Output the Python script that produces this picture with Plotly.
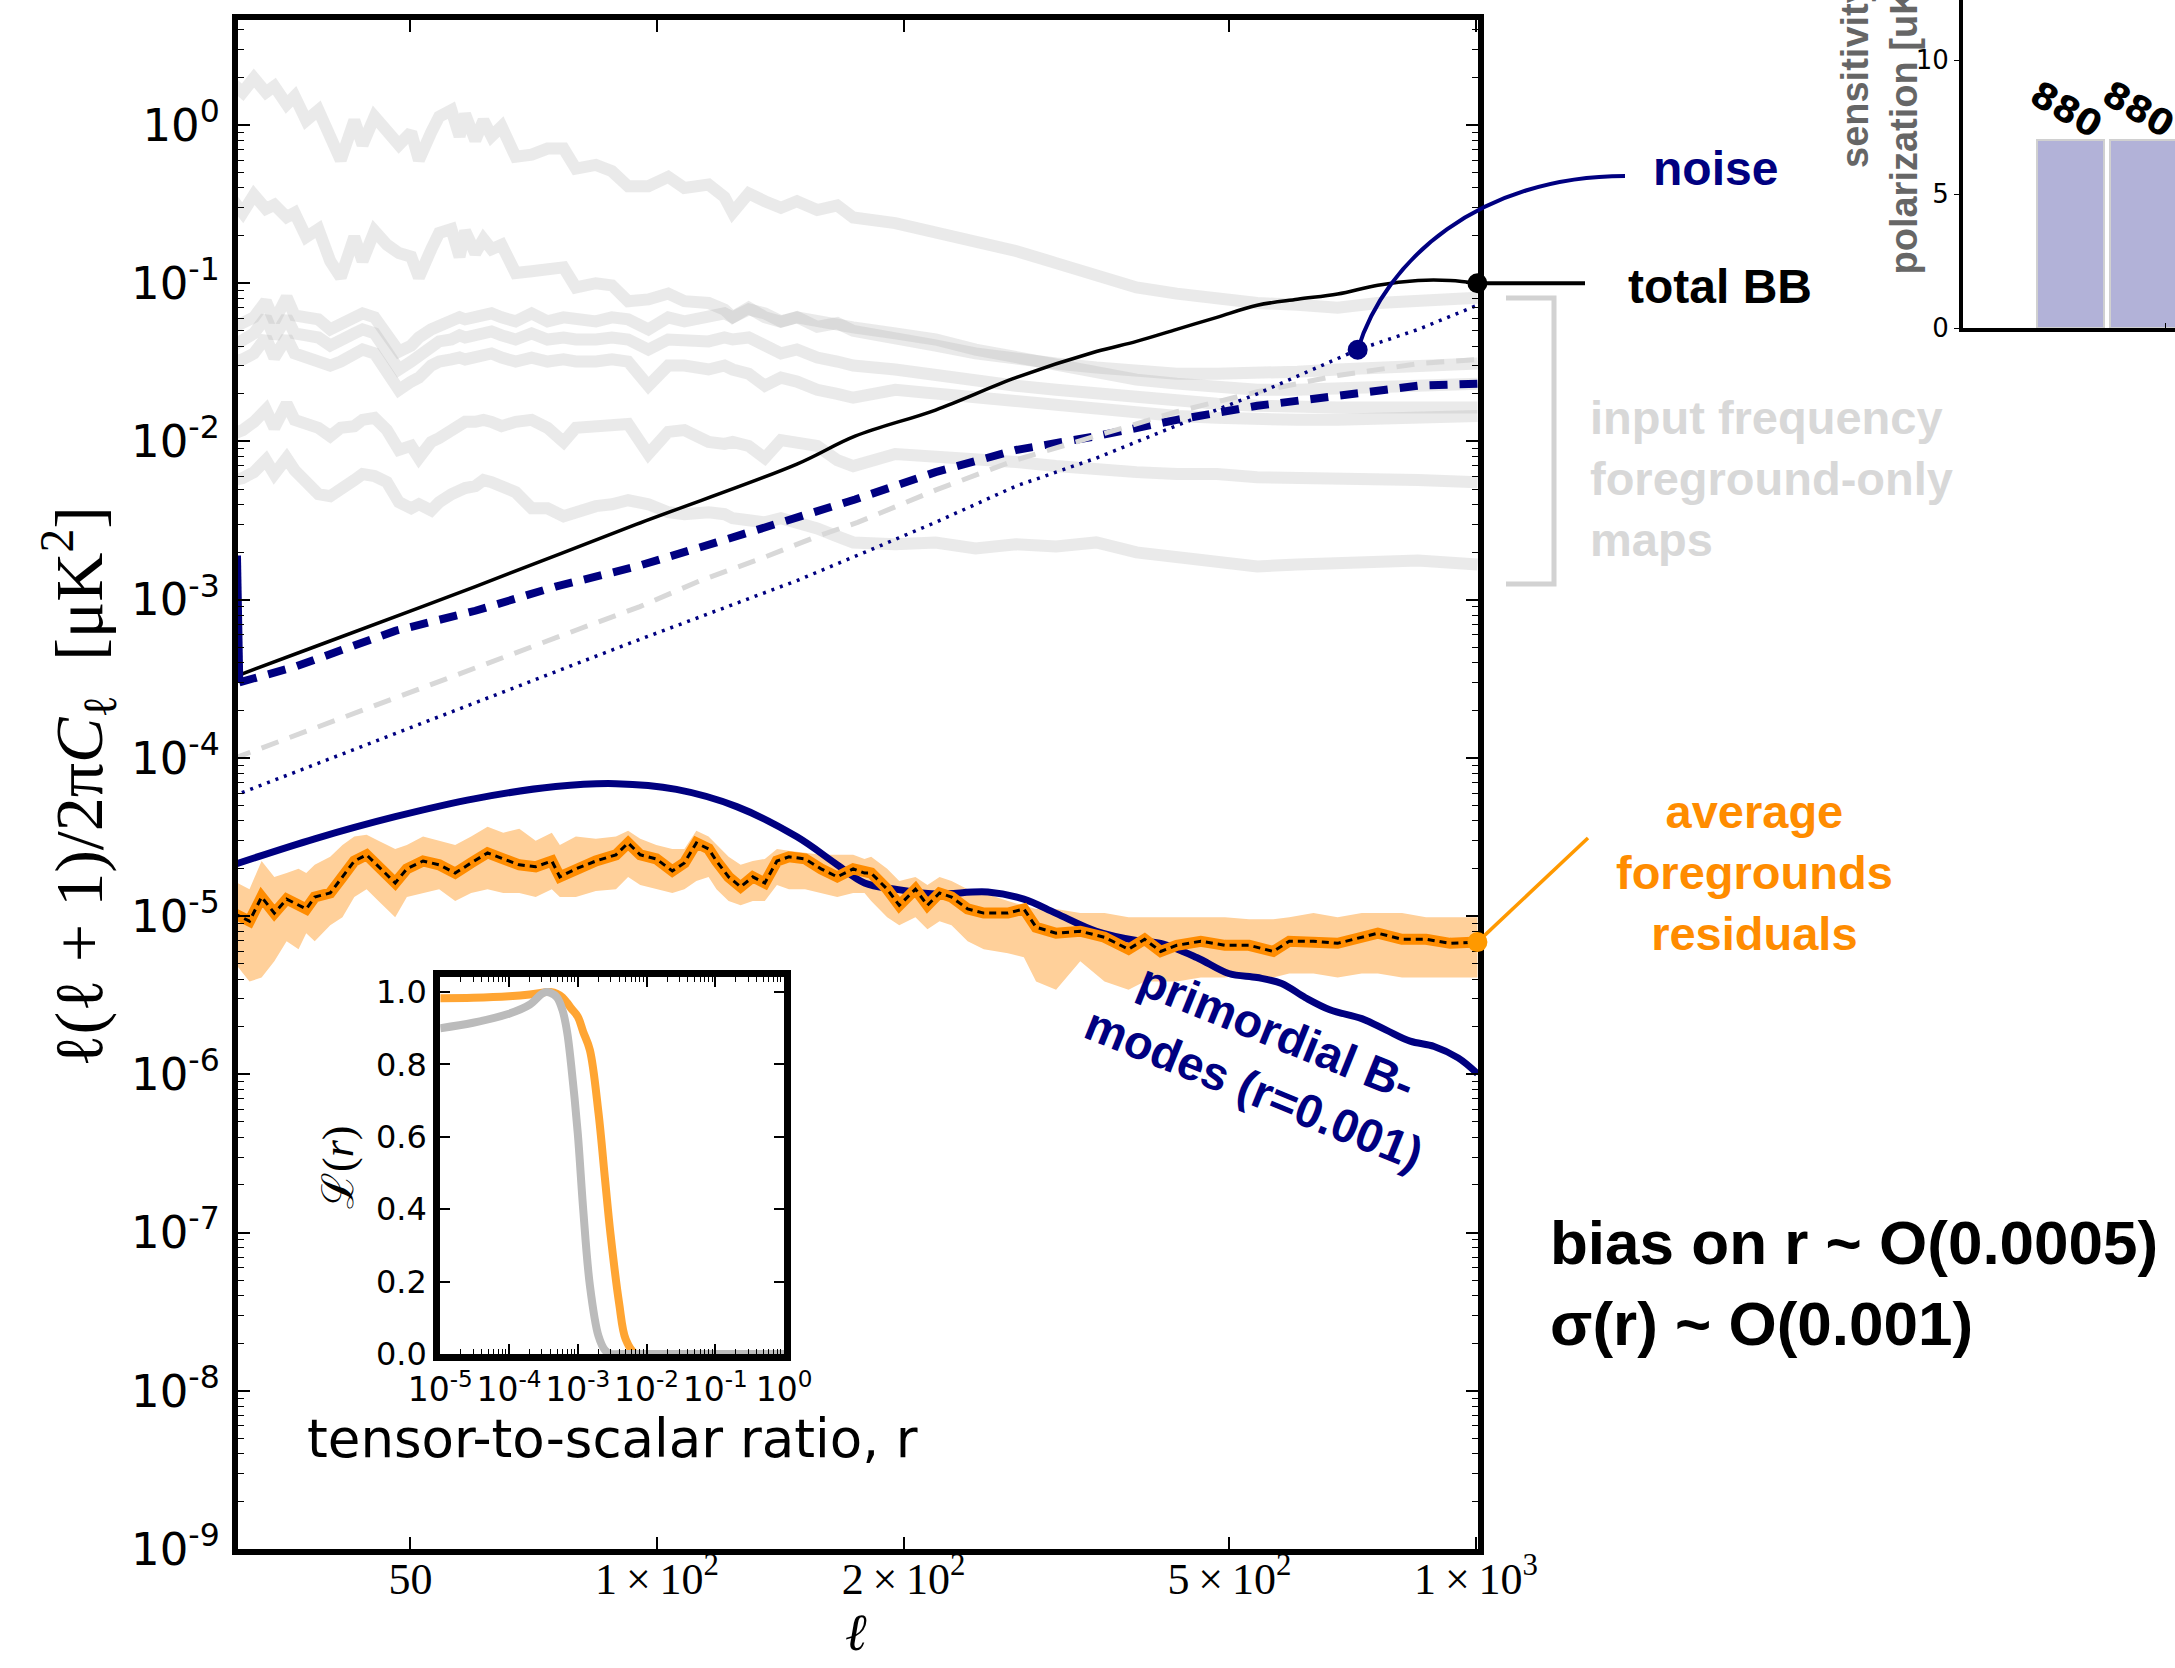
import math
import plotly.graph_objects as go

W, H = 2175, 1668

# ---------------------------------------------------------------------------
# Foreground-only input frequency maps, BB spectra D_ell [uK^2]
# ---------------------------------------------------------------------------
ELL_FG = [30.4, 31.2, 32.2, 33.3, 34.1, 35.3, 36.1, 37.3, 38.6, 39.9, 41.1, 42.7,
          43.7, 45.2, 46.8, 48.4, 50.1, 51.2, 53.0, 54.2, 56.1, 57.4, 58.3, 60.0,
          61.4, 62.8, 64.6, 67.2, 70.3, 73.5, 76.9, 79.6, 84.2, 88.1, 92.2, 97.6,
          103.2, 108.0, 115.6, 120.9, 123.7, 129.4, 135.4, 141.7, 148.2, 156.9,
          166.0, 173.6, 195.4, 218.8, 244.9, 274.3, 307.1, 343.9, 385.0, 431.1,
          482.7, 540.6, 605.3, 677.7, 758.8, 849.6, 1004.0]

FG_1 = [1.81, 1.61, 1.98, 1.61, 1.76, 1.35, 1.52, 1.07, 1.24, 0.80, 0.60, 1.07,
        0.75, 1.13, 0.90, 0.75, 0.90, 0.60, 0.90, 1.13, 1.24, 0.85, 1.17, 0.80,
        1.07, 0.85, 0.98, 0.63, 0.65, 0.71, 0.71, 0.53, 0.56, 0.51, 0.41, 0.41,
        0.47, 0.40, 0.42, 0.35, 0.28, 0.37, 0.33, 0.30, 0.33, 0.29, 0.31, 0.26,
        0.24, 0.21, 0.19, 0.16, 0.134, 0.112, 0.094, 0.086, 0.079, 0.075, 0.073,
        0.070, 0.075, 0.077, 0.081]
FG_2 = [0.332, 0.279, 0.362, 0.295, 0.313, 0.262, 0.279, 0.196, 0.220, 0.138,
        0.109, 0.196, 0.138, 0.214, 0.175, 0.155, 0.147, 0.109, 0.164, 0.208,
        0.220, 0.147, 0.214, 0.155, 0.190, 0.164, 0.175, 0.116, 0.119, 0.123,
        0.126, 0.094, 0.100, 0.097, 0.077, 0.079, 0.086, 0.077, 0.075, 0.068,
        0.061, 0.070, 0.061, 0.057, 0.061, 0.053, 0.056, 0.050, 0.0454, 0.0404,
        0.0360, 0.0330, 0.0311, 0.0293, 0.0276, 0.0268, 0.0268, 0.0268, 0.0276,
        0.0285, 0.0293, 0.0302, 0.0311]
FG_3 = [0.0526, 0.0557, 0.0609, 0.0769, 0.0574, 0.0815, 0.0627, 0.0609, 0.0591,
        0.0511, 0.0557, 0.0627, 0.0645, 0.0609, 0.0482, 0.0370, 0.0404, 0.0454,
        0.0511, 0.0541, 0.0574, 0.0609, 0.0591, 0.0609, 0.0609, 0.0645, 0.0609,
        0.0574, 0.0645, 0.0574, 0.0609, 0.0591, 0.0574, 0.0609, 0.0591, 0.0511,
        0.0609, 0.0574, 0.0609, 0.0645, 0.0609, 0.0684, 0.0645, 0.0574, 0.0609,
        0.0574, 0.0541, 0.0526, 0.0482, 0.0441, 0.0381, 0.0339, 0.0302, 0.0268,
        0.0246, 0.0232, 0.0218, 0.0212, 0.0212, 0.0218, 0.0225, 0.0225, 0.0232]
FG_4 = [0.0404, 0.0429, 0.0482, 0.0609, 0.0454, 0.0609, 0.0482, 0.0468, 0.0454,
        0.0404, 0.0429, 0.0482, 0.0511, 0.0482, 0.0370, 0.0285, 0.0320, 0.0349,
        0.0404, 0.0429, 0.0441, 0.0468, 0.0454, 0.0468, 0.0468, 0.0496, 0.0468,
        0.0441, 0.0482, 0.0441, 0.0454, 0.0441, 0.0441, 0.0454, 0.0441, 0.0381,
        0.0441, 0.0441, 0.0429, 0.0454, 0.0441, 0.0454, 0.0404, 0.0360, 0.0381,
        0.0339, 0.0320, 0.0302, 0.0285, 0.0261, 0.0239, 0.0225, 0.0212, 0.0200,
        0.0189, 0.0178, 0.0173, 0.0168, 0.0164, 0.0164, 0.0164, 0.0164, 0.0164]
FG_5 = [0.0320, 0.0330, 0.0360, 0.0454, 0.0339, 0.0454, 0.0360, 0.0339, 0.0320,
        0.0302, 0.0320, 0.0360, 0.0381, 0.0360, 0.0285, 0.0212, 0.0239, 0.0253,
        0.0302, 0.0320, 0.0330, 0.0339, 0.0330, 0.0339, 0.0349, 0.0360, 0.0339,
        0.0320, 0.0339, 0.0320, 0.0330, 0.0320, 0.0320, 0.0330, 0.0320, 0.0225,
        0.0302, 0.0302, 0.0285, 0.0302, 0.0285, 0.0268, 0.0225, 0.0253, 0.0239,
        0.0212, 0.0200, 0.0189, 0.0212, 0.0200, 0.0189, 0.0178, 0.0168, 0.0159,
        0.0150, 0.0145, 0.0141, 0.0137, 0.0137, 0.0137, 0.0141, 0.0145, 0.0145]
FG_6 = [0.0112, 0.0118, 0.0133, 0.0159, 0.0122, 0.0173, 0.0137, 0.0129, 0.0122,
        0.0108, 0.0122, 0.0125, 0.0137, 0.0141, 0.0118, 0.00884, 0.00937, 0.00786,
        0.00993, 0.0105, 0.0115, 0.0125, 0.0133, 0.0133, 0.0137, 0.0133, 0.0125,
        0.0133, 0.0137, 0.0122, 0.00993, 0.0122, 0.0125, 0.0125, 0.0129, 0.00833,
        0.0115, 0.0118, 0.00993, 0.00965, 0.00993, 0.00937, 0.00786, 0.0102,
        0.00993, 0.00937, 0.00763, 0.00699, 0.00833, 0.00809, 0.00763, 0.00741,
        0.00699, 0.00659, 0.00640, 0.00622, 0.00622, 0.00594, 0.00587, 0.00604,
        0.00587, 0.00570, 0.00553]
FG_7 = [0.00570, 0.00587, 0.00640, 0.00763, 0.00622, 0.00786, 0.00659, 0.00570,
        0.00464, 0.00451, 0.00492, 0.00570, 0.00622, 0.00604, 0.00553, 0.00413,
        0.00378, 0.00401, 0.00367, 0.00413, 0.00464, 0.00492, 0.00507, 0.00522,
        0.00570, 0.00553, 0.00522, 0.00478, 0.00378, 0.00378, 0.00337, 0.00357,
        0.00390, 0.00401, 0.00425, 0.00401, 0.00357, 0.00347, 0.00357, 0.00347,
        0.00327, 0.00318, 0.00308, 0.00327, 0.00308, 0.00282, 0.00251, 0.00230,
        0.00224, 0.00230, 0.00211, 0.00224, 0.00217, 0.00230, 0.00199, 0.00188,
        0.00177, 0.00162, 0.00167, 0.00172, 0.00172, 0.00177, 0.00167]
FG_MAPS = [FG_1, FG_2, FG_3, FG_4, FG_5, FG_6, FG_7]

# total BB (lensing + primordial + noise)
ELL_TOTAL = [30.4, 38.2, 60.0, 94.3, 148.2, 174.5, 218.8, 274.3, 343.9, 385.0,
             431.1, 482.7, 540.6, 605.3, 677.7, 758.8, 849.6, 930.0, 1004.0]
TOTAL_BB = [3.24e-4, 5.04e-4, 1.21e-3, 2.99e-3, 7.19e-3, 1.08e-2, 1.58e-2, 2.53e-2,
            3.70e-2, 4.29e-2, 5.11e-2, 6.09e-2, 7.26e-2, 7.92e-2, 8.55e-2, 9.72e-2,
            1.04e-1, 1.04e-1, 1.00e-1]

# post component-separation noise
ELL_NOISE = [30.7, 30.9, 36.1, 47.9, 60.0, 75.2, 94.3, 118.2, 148.2, 174.5, 218.8,
             274.3, 343.9, 431.1, 540.6, 677.7, 849.6, 1004.0]
NOISE_BB = [1.9e-3, 3.0e-4, 3.76e-4, 6.35e-4, 8.51e-4, 1.21e-3, 1.62e-3, 2.30e-3,
            3.27e-3, 4.30e-3, 6.40e-3, 8.83e-3, 1.08e-2, 1.37e-2, 1.68e-2, 1.95e-2,
            2.25e-2, 2.32e-2]

# lensing BB
ELL_LENS = [30.4, 68.7, 80.5, 95.3, 113.0, 134.0, 156.8, 175.8, 218.8, 274.3, 343.9,
            431.1, 540.6, 677.7, 849.6, 1004.0]
LENS_BB = [9.9e-5, 4.89e-4, 6.55e-4, 9.04e-4, 1.32e-3, 1.82e-3, 2.51e-3, 3.08e-3,
           4.92e-3, 7.64e-3, 1.08e-2, 1.54e-2, 2.06e-2, 2.61e-2, 3.10e-2, 3.30e-2]

# instrumental white noise
ELL_WHITE = [30.4, 94.3, 118.2, 148.2, 179.2, 218.8, 274.3, 343.9, 431.1, 540.6,
             717.0, 849.6, 1004.0]
WHITE_BB = [5.75e-5, 5.50e-4, 8.51e-4, 1.32e-3, 1.99e-3, 3.08e-3, 5.22e-3, 7.85e-3,
            1.26e-2, 2.00e-2, 3.80e-2, 5.10e-2, 7.26e-2]
NOISE_LABEL_INDEX = 10

# primordial tensor BB for r = 0.001
ELL_PRIM = [30.4, 38.2, 47.9, 60.0, 75.2, 89.1, 105.6, 125.1, 148.2, 166.0, 179.2,
            195.4, 218.8, 253.5, 280.5, 307.1, 343.9, 385.0, 412.1, 456.0, 499.0,
            540.6, 579.0, 619.0, 663.0, 725.3, 776.0, 831.0, 889.0, 951.0, 1004.0]
PRIM_BB = [2.11e-5, 3.08e-5, 4.25e-5, 5.53e-5, 6.59e-5, 6.87e-5, 6.32e-5, 4.92e-5,
           3.17e-5, 2.11e-5, 1.62e-5, 1.48e-5, 1.38e-5, 1.42e-5, 1.28e-5, 1.04e-5,
           8.02e-6, 7.01e-6, 6.73e-6, 5.48e-6, 4.34e-6, 4.09e-6, 3.75e-6, 3.05e-6,
           2.56e-6, 2.25e-6, 1.91e-6, 1.62e-6, 1.50e-6, 1.27e-6, 1.01e-6]

# average foreground residuals with their scatter
ELL_RES = [30.4, 31.8, 32.9, 34.1, 35.3, 36.5, 37.3, 38.2, 39.9, 41.3, 42.7, 44.2,
           45.7, 47.9, 49.5, 51.8, 54.2, 56.7, 59.3, 62.1, 64.9, 67.9, 71.1, 74.4,
           76.1, 79.6, 84.2, 89.1, 92.2, 95.4, 99.8, 104.4, 108.0, 111.7, 115.6,
           118.2, 122.3, 126.5, 130.9, 135.4, 140.1, 144.9, 151.6, 158.6, 166.0,
           173.6, 179.2, 182.6, 191.0, 197.6, 206.8, 213.9, 221.3, 228.9, 239.5,
           250.6, 268.2, 280.5, 290.3, 307.1, 328.7, 351.9, 376.5, 393.9, 412.1,
           431.1, 461.3, 493.7, 528.4, 565.5, 591.6, 633.2, 677.7, 725.3, 758.8,
           812.2, 869.0, 930.1, 1004.0]
RES_MEAN = [1.045e-5, 9.29e-6, 1.32e-5, 1.045e-5, 1.28e-5, 1.17e-5, 1.11e-5, 1.32e-5,
            1.40e-5, 1.77e-5, 2.23e-5, 2.44e-5, 2.05e-5, 1.62e-5, 1.99e-5, 2.23e-5,
            2.11e-5, 1.87e-5, 2.17e-5, 2.51e-5, 2.30e-5, 2.11e-5, 2.05e-5, 2.23e-5,
            1.77e-5, 1.99e-5, 2.23e-5, 2.44e-5, 2.90e-5, 2.44e-5, 2.30e-5, 1.93e-5,
            2.17e-5, 2.90e-5, 2.66e-5, 2.23e-5, 1.77e-5, 1.53e-5, 1.77e-5, 1.62e-5,
            2.23e-5, 2.37e-5, 2.30e-5, 1.99e-5, 1.77e-5, 1.99e-5, 1.87e-5,
            1.87e-5, 1.48e-5, 1.17e-5, 1.48e-5, 1.17e-5, 1.40e-5, 1.32e-5, 1.11e-5,
            1.045e-5, 1.045e-5, 1.11e-5, 8.51e-6, 7.80e-6, 8.02e-6, 7.35e-6, 6.17e-6,
            7.14e-6, 5.98e-6, 6.54e-6, 6.94e-6, 6.54e-6, 6.54e-6, 5.98e-6, 6.94e-6,
            6.94e-6, 6.73e-6, 7.35e-6, 7.80e-6, 7.14e-6, 7.14e-6, 6.73e-6, 6.85e-6]
RES_UPPER = [1.67e-5, 1.48e-5, 2.23e-5, 1.77e-5, 1.87e-5, 1.99e-5, 1.87e-5, 2.11e-5,
             2.37e-5, 2.82e-5, 3.18e-5, 3.27e-5, 2.99e-5, 2.66e-5, 2.82e-5, 3.18e-5,
             2.99e-5, 2.82e-5, 3.18e-5, 3.67e-5, 3.37e-5, 3.57e-5, 2.99e-5, 3.37e-5,
             2.82e-5, 3.18e-5, 3.08e-5, 3.18e-5, 3.46e-5, 3.08e-5, 2.82e-5, 2.66e-5,
             2.66e-5, 3.46e-5, 3.18e-5, 2.82e-5, 2.37e-5, 2.11e-5, 2.23e-5, 2.30e-5,
             2.66e-5, 2.59e-5, 2.51e-5, 2.44e-5, 2.44e-5, 2.44e-5, 2.30e-5,
             2.37e-5, 1.99e-5, 1.67e-5, 1.77e-5, 1.57e-5, 1.77e-5, 1.67e-5, 1.48e-5,
             1.40e-5, 1.245e-5, 1.17e-5, 1.11e-5, 1.11e-5, 1.045e-5, 1.045e-5, 9.85e-6,
             9.85e-6, 9.85e-6, 9.85e-6, 9.85e-6, 9.85e-6, 9.57e-6, 9.57e-6, 9.85e-6,
             1.045e-5, 9.85e-6, 1.045e-5, 1.045e-5, 1.045e-5, 9.85e-6, 9.85e-6, 9.85e-6]
RES_LOWER = [5.18e-6, 3.86e-6, 4.09e-6, 5.18e-6, 6.93e-6, 6.17e-6, 7.79e-6, 6.93e-6,
             8.76e-6, 9.85e-6, 1.32e-5, 1.48e-5, 1.245e-5, 9.85e-6, 1.32e-5, 1.40e-5,
             1.48e-5, 1.245e-5, 1.40e-5, 1.48e-5, 1.40e-5, 1.40e-5, 1.32e-5, 1.48e-5,
             1.32e-5, 1.32e-5, 1.44e-5, 1.48e-5, 1.77e-5, 1.57e-5, 1.48e-5, 1.40e-5,
             1.48e-5, 1.67e-5, 1.77e-5, 1.48e-5, 1.245e-5, 1.17e-5, 1.245e-5, 1.245e-5,
             1.57e-5, 1.48e-5, 1.48e-5, 1.40e-5, 1.32e-5, 1.40e-5, 1.40e-5,
             1.245e-5, 9.85e-6, 8.76e-6, 9.85e-6, 8.26e-6, 9.29e-6, 8.76e-6, 6.93e-6,
             6.17e-6, 5.82e-6, 5.49e-6, 3.86e-6, 3.43e-6, 5.18e-6, 3.86e-6, 3.43e-6,
             3.86e-6, 3.86e-6, 3.86e-6, 4.09e-6, 4.09e-6, 4.34e-6, 4.09e-6, 4.34e-6,
             4.34e-6, 4.09e-6, 4.34e-6, 4.34e-6, 4.09e-6, 4.09e-6, 4.09e-6, 4.09e-6]

# likelihood on the tensor-to-scalar ratio
R_GRID = [1e-5, 3e-5, 1e-4, 2e-4, 3e-4, 3.5e-4, 4e-4, 5e-4, 6e-4, 7e-4, 8e-4, 1e-3,
          1.2e-3, 1.5e-3, 2e-3, 2.5e-3, 3e-3, 4e-3, 5e-3, 7e-3, 1e-2, 1e-1, 1.0]
LIKE_NO_FG = [0.90, 0.915, 0.94, 0.965, 0.995, 1.0, 0.998, 0.985, 0.95, 0.89, 0.80,
              0.61, 0.40, 0.19, 0.05, 0.01, 0.0, 0.0, 0.0, 0.0, 0.0, 0.0, 0.0]
LIKE_WITH_FG = [0.983, 0.984, 0.988, 0.993, 0.998, 1.0, 1.0, 0.995, 0.985, 0.97, 0.955,
                0.932, 0.89, 0.84, 0.667, 0.48, 0.33, 0.14, 0.04, 0.0, 0.0, 0.0, 0.0]

# instrument bands (polarization sensitivity per band)
BAND_GHZ = [27, 40]
BAND_WIDTH_GHZ = 12
POL_SENS = [7.0, 7.0]
N_DETECTORS = ["880", "880"]

# tick labels
Y_EXPONENTS = list(range(-9, 1))
X_TICKS = [50, 100, 200, 500, 1000]
X_TICKTEXT = ["50", "1\u2009×\u200910<sup>2</sup>", "2\u2009×\u200910<sup>2</sup>",
              "5\u2009×\u200910<sup>2</sup>", "1\u2009×\u200910<sup>3</sup>"]
INSET_X_EXPONENTS = list(range(-5, 1))
INSET_Y_TICKS = [0.0, 0.2, 0.4, 0.6, 0.8, 1.0]

# ---------------------------------------------------------------------------
# Layout geometry (pixel based, the figure has no margins)
# ---------------------------------------------------------------------------
def px(x):
    return x / W


def py(y):
    return 1 - y / H


MAIN_XDOM = [px(237.7), px(1478.0)]
MAIN_YDOM = [py(1549.0), py(20.0)]
MAIN_XRANGE = [1.48803, 3.00244]
MAIN_YRANGE = [-9.0, 0.6637]

INSET_XDOM = [px(440.25), px(784.0)]
INSET_YDOM = [py(1354.0), py(976.5)]

BAR_XDOM = [px(1963.0), 1.0]
BAR_YDOM = [py(328.0), 1.0]


def to_paper(ell, val):
    fx = (math.log10(ell) - MAIN_XRANGE[0]) / (MAIN_XRANGE[1] - MAIN_XRANGE[0])
    fy = (math.log10(val) - MAIN_YRANGE[0]) / (MAIN_YRANGE[1] - MAIN_YRANGE[0])
    return (MAIN_XDOM[0] + fx * (MAIN_XDOM[1] - MAIN_XDOM[0]),
            MAIN_YDOM[0] + fy * (MAIN_YDOM[1] - MAIN_YDOM[0]))


NAVY = "#000080"
ORANGE = "#FF8C00"
SANS = "Liberation Sans, Arial, sans-serif"
DEJAVU = "DejaVu Sans, sans-serif"
SERIF = "Liberation Serif, DejaVu Serif, serif"

fig = go.Figure()


def line(x, y, color, width, dash=None, shape="linear", axes=("x", "y"), **kw):
    fig.add_trace(go.Scatter(
        x=x, y=y, mode="lines", xaxis=axes[0], yaxis=axes[1],
        line=dict(color=color, width=width, dash=dash, shape=shape),
        hoverinfo="skip", showlegend=False, **kw))


# foreground-only maps
for fg in FG_MAPS:
    line(ELL_FG, fg, "rgba(170,170,170,0.25)", 12)

line(ELL_TOTAL, TOTAL_BB, "black", 3.5, shape="spline")
# steep low-ell rise of the noise drawn solid, the rest dashed
line(ELL_NOISE[:2], NOISE_BB[:2], NAVY, 8)
line(ELL_NOISE[1:], NOISE_BB[1:], NAVY, 8, dash="18px,12px")
line(ELL_LENS, LENS_BB, "rgb(216,216,216)", 5, dash="18px,12px")
line(ELL_WHITE, WHITE_BB, NAVY, 3.5, dash="3px,6px")

# residual band
line(ELL_RES, RES_UPPER, "rgba(0,0,0,0)", 0)
line(ELL_RES, RES_LOWER, "rgba(0,0,0,0)", 0, fill="tonexty", fillcolor="#FFD09A")

line(ELL_PRIM, PRIM_BB, NAVY, 7, shape="spline")
line(ELL_RES, RES_MEAN, ORANGE, 11)
line(ELL_RES, RES_MEAN, "black", 3, dash="7px,5px")

# marker where the noise label points
fig.add_trace(go.Scatter(
    x=[ELL_WHITE[NOISE_LABEL_INDEX]], y=[WHITE_BB[NOISE_LABEL_INDEX]],
    mode="markers", marker=dict(color=NAVY, size=20),
    hoverinfo="skip", showlegend=False))

# inset: likelihood of r
line(R_GRID, LIKE_WITH_FG, "#FFA533", 8, shape="spline", axes=("x2", "y2"))
line(R_GRID, LIKE_NO_FG, "#BBBBBB", 8, shape="spline", axes=("x2", "y2"))

# instrument bands
fig.add_trace(go.Bar(
    x=BAND_GHZ, y=POL_SENS, width=BAND_WIDTH_GHZ, offset=0,
    marker=dict(color="#B2B2D8", line=dict(color="#D0D0D0", width=2)),
    xaxis="x3", yaxis="y3", hoverinfo="skip", showlegend=False))

# ---------------------------------------------------------------------------
# Axes
# ---------------------------------------------------------------------------
frame = dict(showline=True, linecolor="black", mirror="allticks", ticks="inside",
             tickcolor="black", showgrid=False, zeroline=False,
             automargin=False, tickangle=0)

y_minor = [k * 10.0 ** e for e in range(-9, 1) for k in range(2, 10)]
x2_minor = [k * 10.0 ** e for e in range(-5, 0) for k in range(2, 10)]

fig.update_layout(
    width=W, height=H, margin=dict(l=0, r=0, t=0, b=0, autoexpand=False),
    paper_bgcolor="white", plot_bgcolor="white", showlegend=False,
    bargap=0,
    xaxis=dict(domain=MAIN_XDOM, type="log", range=MAIN_XRANGE, anchor="y",
               linewidth=6, ticklen=12, tickwidth=1.5,
               tickvals=X_TICKS, ticktext=X_TICKTEXT, ticklabelstandoff=-14,
               tickfont=dict(family=SERIF, size=44, color="black"), **frame),
    yaxis=dict(domain=MAIN_YDOM, type="log", range=MAIN_YRANGE, anchor="x",
               linewidth=6, ticklen=12, tickwidth=1.5,
               tickvals=[10.0 ** e for e in Y_EXPONENTS],
               ticktext=[f"10<sup>{e}</sup>" for e in Y_EXPONENTS],
               ticklabelstandoff=3,
               tickfont=dict(family=DEJAVU, size=45, color="black"),
               minor=dict(tickvals=y_minor, ticks="inside", ticklen=6,
                          tickwidth=1.2, tickcolor="black", showgrid=False),
               **frame),
    xaxis2=dict(domain=INSET_XDOM, type="log", range=[-5, 0], anchor="y2",
                linewidth=7, ticklen=10, tickwidth=1.5,
                tickvals=[10.0 ** e for e in INSET_X_EXPONENTS],
                ticktext=[f"10<sup>{e}</sup>" for e in INSET_X_EXPONENTS],
                tickfont=dict(family=DEJAVU, size=33, color="black"),
                minor=dict(tickvals=x2_minor, ticks="inside", ticklen=5,
                           tickwidth=1, tickcolor="black", showgrid=False),
                **frame),
    yaxis2=dict(domain=INSET_YDOM, range=[0, 1.0428], anchor="x2",
                linewidth=7, ticklen=10, tickwidth=1.5,
                tickvals=INSET_Y_TICKS,
                ticktext=[f"{v:.1f}" for v in INSET_Y_TICKS],
                tickfont=dict(family=DEJAVU, size=32, color="black"), **frame),
    xaxis3=dict(domain=BAR_XDOM, range=[13.74, 51.73], anchor="y3",
                showline=True, linecolor="black", linewidth=4, mirror=False,
                ticks="inside", ticklen=5, tickcolor="black",
                tickvals=[50], ticktext=["50"], automargin=False,
                tickfont=dict(family=SERIF, size=24, color="black"),
                showgrid=False, zeroline=False),
    yaxis3=dict(domain=BAR_YDOM, range=[0, 12.24], anchor="x3",
                showline=True, linecolor="black", linewidth=4, mirror=False,
                ticks="outside", ticklen=5, tickcolor="black",
                tickvals=[0, 5, 10], ticktext=["0", "5", "10"], automargin=False,
                tickfont=dict(family=DEJAVU, size=26, color="black"),
                showgrid=False, zeroline=False),
)

# ---------------------------------------------------------------------------
# Connectors, bracket and end-point dots
# ---------------------------------------------------------------------------
shapes = []

nx, ny = to_paper(ELL_WHITE[NOISE_LABEL_INDEX], WHITE_BB[NOISE_LABEL_INDEX])
shapes.append(dict(
    type="path", xref="paper", yref="paper",
    path=(f"M {nx},{ny} C {px(1385)},{py(260)} {px(1480)},{py(176)} "
          f"{px(1625)},{py(176)}"),
    line=dict(color=NAVY, width=4)))

tx, ty = to_paper(ELL_TOTAL[-1], TOTAL_BB[-1])
shapes.append(dict(type="line", xref="paper", yref="paper",
                   x0=tx, y0=ty, x1=px(1585), y1=ty,
                   line=dict(color="black", width=4)))

ox, oy = to_paper(ELL_RES[-1], RES_MEAN[-1])
shapes.append(dict(type="line", xref="paper", yref="paper",
                   x0=ox, y0=oy, x1=px(1588), y1=py(838),
                   line=dict(color="#FF9900", width=3.5)))

shapes.append(dict(
    type="path", xref="paper", yref="paper",
    path=(f"M {px(1506)},{py(298)} L {px(1554)},{py(298)} "
          f"L {px(1554)},{py(584)} L {px(1506)},{py(584)}"),
    line=dict(color="rgb(210,210,210)", width=5)))

for (cx, cy, col) in [(tx, ty, "black"), (ox, oy, "#FF9900")]:
    shapes.append(dict(type="circle", xref="paper", yref="paper",
                       x0=cx - 10 / W, x1=cx + 10 / W, y0=cy - 10 / H, y1=cy + 10 / H,
                       fillcolor=col, line=dict(color=col, width=0)))

fig.update_layout(shapes=shapes)

# ---------------------------------------------------------------------------
# Text
# ---------------------------------------------------------------------------
ann = []


def text(t, x, y, size, color="black", family=SANS, xanchor="left",
         yanchor="middle", angle=0, align="left", bold=True, **kw):
    if bold:
        t = "<b>" + t.replace("<br>", "</b><br><b>") + "</b>"
    ann.append(dict(text=t, x=x, y=y, xref="paper", yref="paper",
                    xanchor=xanchor, yanchor=yanchor, textangle=angle,
                    align=align, showarrow=False,
                    font=dict(family=family, size=size, color=color), **kw))


text("noise", px(1651), py(168), 48, NAVY)
text("total BB", px(1626), py(286), 48)
text("input frequency<br>foreground-only<br>maps", px(1588), py(478), 47,
     "rgb(216,216,216)")
text("average<br>foregrounds<br>residuals", px(1755), py(872), 47, ORANGE,
     xanchor="center", align="center")
text("bias on r ~ O(0.0005)<br>σ(r) ~ O(0.001)", px(1548), py(1283), 62)
text("primordial B-<br>modes (r=0.001)", px(1265), py(1060), 47, NAVY,
     xanchor="center", angle=22, align="center")
text("tensor-to-scalar ratio, r", px(612), py(1438), 53, family=DEJAVU,
     xanchor="center", bold=False)

# axis titles
text("ℓ(ℓ + 1)/2π<i>C</i><sub>ℓ</sub>  [μK<sup>2</sup>]", px(79), py(787), 68,
     family=SERIF, xanchor="center", angle=-90, bold=False)
text("<i>ℓ</i>", px(856), py(1632), 52, family=SERIF, xanchor="center", bold=False)
text("ℒ(<i>r</i>)", px(338), py(1168), 44, family=SERIF, xanchor="center",
     angle=-90, bold=False)

# bar chart labels
text("sensitivity", px(1855), py(170), 38, "#666666", xanchor="center",
     yanchor="bottom", angle=-90)
text("polarization [uK-arcmin]", px(1904), py(277), 38, "#666666",
     xanchor="center", yanchor="bottom", angle=-90)

for f, s, n in zip(BAND_GHZ, POL_SENS, N_DETECTORS):
    ann.append(dict(text="<b>" + n + "</b>", x=f, y=s, xref="x3", yref="y3",
                    xanchor="left", yanchor="bottom", xshift=-16, yshift=-8,
                    textangle=30, showarrow=False,
                    font=dict(family="DejaVu Sans", size=36, color="black")))

fig.update_layout(annotations=ann)

fig.write_html("out.html", include_plotlyjs=True, full_html=True,
               config={"displayModeBar": False})
